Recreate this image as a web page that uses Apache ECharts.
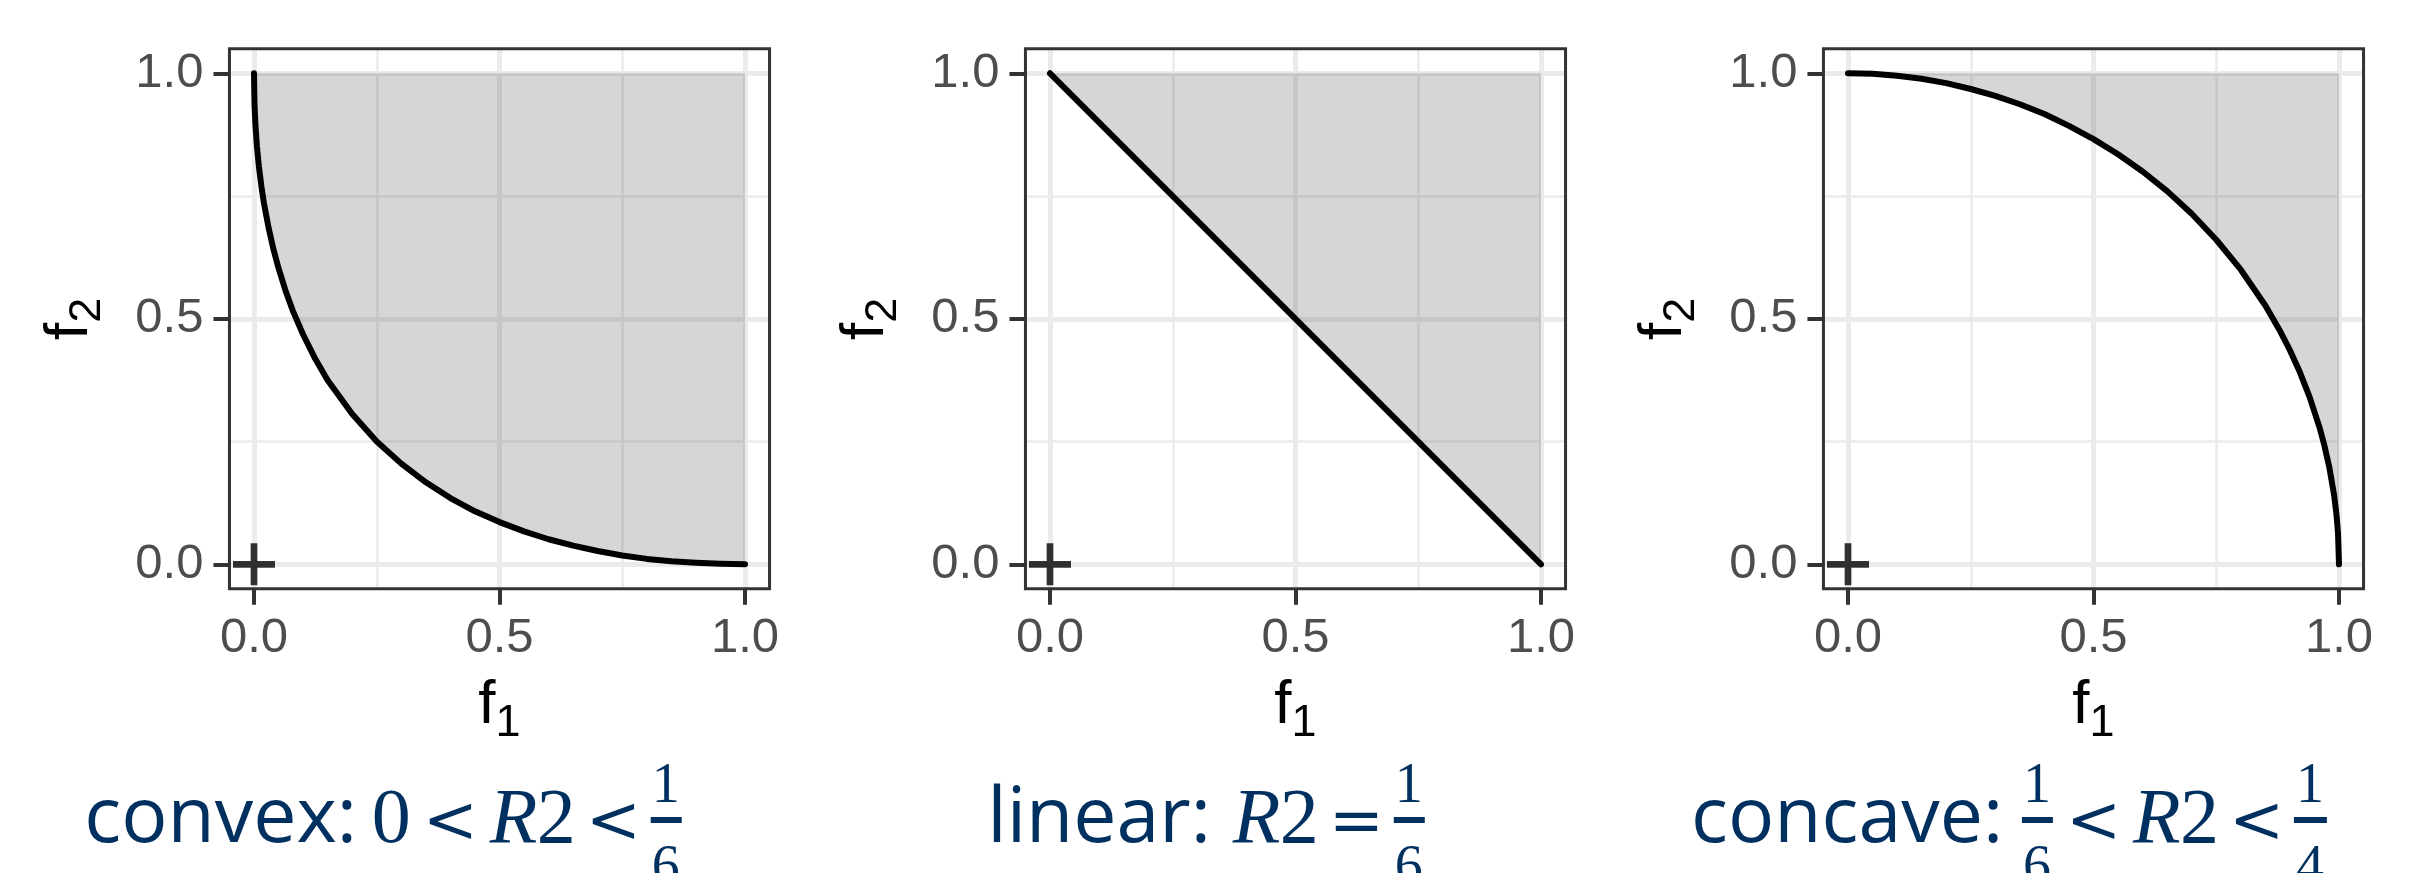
<!DOCTYPE html>
<html>
<head>
<meta charset="utf-8">
<script src="https://cdn.jsdelivr.net/npm/echarts@6/dist/echarts.min.js"></script>
<style>
html, body { margin: 0; padding: 0; background: #ffffff; }
#chart { width: 2417px; height: 873px; }
</style>
</head>
<body>
<div id="chart"></div>
<script>
// ---- data -------------------------------------------------------------
const TICKS = [0, 0.5, 1];
const TICK_LABELS = ['0.0', '0.5', '1.0'];
const MINOR_GRID = [0.25, 0.75];

// convex front
const convexF1 = [0, 0.001, 0.003, 0.006, 0.01, 0.015, 0.02, 0.03, 0.04, 0.05, 0.065, 0.08, 0.1, 0.125, 0.15, 0.2, 0.25, 0.3, 0.35, 0.4, 0.45, 0.5, 0.55, 0.6, 0.65, 0.7, 0.75, 0.8, 0.85, 0.9, 0.95, 1];
const convexF2 = [1, 0.938, 0.894, 0.851, 0.81, 0.77, 0.737, 0.684, 0.64, 0.603, 0.555, 0.514, 0.468, 0.418, 0.375, 0.306, 0.25, 0.205, 0.167, 0.135, 0.108, 0.086, 0.067, 0.051, 0.038, 0.027, 0.018, 0.011, 0.006, 0.003, 0.001, 0];

// linear front
const linearF1 = [0, 1];
const linearF2 = [1, 0];

// concave front
const concaveF1 = [0, 0.05, 0.1, 0.15, 0.2, 0.25, 0.3, 0.35, 0.4, 0.45, 0.5, 0.55, 0.6, 0.65, 0.7, 0.75, 0.8, 0.85, 0.88, 0.9, 0.92, 0.94, 0.96, 0.97, 0.98, 0.99, 0.995, 0.998, 1];
const concaveF2 = [1, 0.999, 0.995, 0.989, 0.98, 0.968, 0.954, 0.937, 0.917, 0.893, 0.866, 0.835, 0.8, 0.76, 0.714, 0.661, 0.6, 0.527, 0.475, 0.436, 0.392, 0.341, 0.28, 0.243, 0.199, 0.141, 0.1, 0.063, 0];

// ideal point
const idealPoint = [0, 0];

// captions: pieces of text and inline math
const captionConvex = [['text', 'convex:'], ['num', '0'], ['rel', '<'], ['var', 'R'], ['num', '2'], ['rel', '<'], ['frac', '1', '6']];
const captionLinear = [['text', 'linear:'], ['var', 'R'], ['num', '2'], ['rel', '='], ['frac', '1', '6']];
const captionConcave = [['text', 'concave:'], ['frac', '1', '6'], ['rel', '<'], ['var', 'R'], ['num', '2'], ['rel', '<'], ['frac', '1', '4']];

// ---- layout -----------------------------------------------------------
const PANEL_X0 = [254, 1050, 1848];   // pixel of f1 = 0 in each panel
const CAPTION_X = [385, 1209, 2011];  // caption centres
const UNIT = 491;                      // pixels per unit on both axes
const Y_ONE = 73.3;                    // pixel of f2 = 1
const EXPAND = 0.05;
const FRAME_COLOR = '#333333';
const GRID_COLOR = '#EBEBEB';
const CAPTION_COLOR = '#00305F';
const CAPTION_BASELINE = 842;

const panels = [
  { f1: convexF1, f2: convexF2, caption: captionConvex },
  { f1: linearF1, f2: linearF2, caption: captionLinear },
  { f1: concaveF1, f2: concaveF2, caption: captionConcave }
];

const zip = (a, b) => a.map((v, i) => [v, b[i]]);

// text measurement helpers
const mctx = document.createElement('canvas').getContext('2d');
function textWidth(s, font) { mctx.font = font; return mctx.measureText(s).width; }
function inkBox(s, font) {
  mctx.font = font;
  const m = mctx.measureText(s);
  return { l: m.actualBoundingBoxLeft, r: m.actualBoundingBoxRight, w: m.actualBoundingBoxLeft + m.actualBoundingBoxRight };
}
function middleOffset(font) {
  mctx.font = font;
  mctx.textBaseline = 'alphabetic';
  const a = mctx.measureText('H').actualBoundingBoxAscent;
  mctx.textBaseline = 'middle';
  const m = mctx.measureText('H').actualBoundingBoxAscent;
  mctx.textBaseline = 'alphabetic';
  return a - m;
}
function textAt(s, font, x, baseline, fill, align) {
  return {
    type: 'text', silent: true, z: 50,
    x: x, y: baseline - middleOffset(font),
    style: { text: s, font: font, fill: fill, align: align || 'left', verticalAlign: 'middle',
             textAlign: align || 'left', textVerticalAlign: 'middle' }
  };
}

const MAIN = 77;
const FONTS = {
  text: MAIN + 'px "Open Sans"',
  num: '78px "Liberation Serif"',
  var: 'italic 78px "Liberation Serif"',
  rel: '66px "DejaVu Serif"'
};
const FONT_FRAC = '56px "Liberation Serif"';
// ink gaps between neighbouring pieces
const GAPS = {
  text: { num: 22, var: 26, frac: 24 },
  num: { rel: 21 },
  rel: { var: 17, frac: 16, num: 17 },
  var: { num: 3 },
  frac: { rel: 20 }
};

function buildCaption(pieces, centerX, baseline) {
  const items = [];
  let x = 0, prev = null;
  pieces.forEach(p => {
    const kind = p[0];
    if (prev) x += (GAPS[prev] && GAPS[prev][kind]) || 17;
    if (kind === 'frac') {
      const n = inkBox(p[1], FONT_FRAC), d = inkBox(p[2], FONT_FRAC);
      const pad = 3;
      const w = Math.max(n.w, d.w) + 2 * pad;
      items.push({ s: p[1], font: FONT_FRAC, x: x + (w - n.w) / 2 + n.l, dy: -40 });
      items.push({ s: p[2], font: FONT_FRAC, x: x + (w - d.w) / 2 + d.l, dy: 42 });
      items.push({ bar: true, x: x, w: w });
      x += w;
    } else {
      const font = FONTS[kind];
      const b = inkBox(p[1], font);
      items.push({ s: p[1], font: font, x: x + b.l, dy: 0 });
      x += b.w;
    }
    prev = kind;
  });
  const left = centerX - x / 2;
  return items.map(it => {
    if (it.bar) {
      return { type: 'rect', silent: true, z: 50,
               shape: { x: left + it.x, y: baseline - 25, width: it.w, height: 6 },
               style: { fill: CAPTION_COLOR } };
    }
    return textAt(it.s, it.font, left + it.x, baseline + it.dy, CAPTION_COLOR, 'left');
  });
}

// ---- option -----------------------------------------------------------
const grids = [], xAxes = [], yAxes = [], series = [], graphics = [];
const side = UNIT * (1 + 2 * EXPAND);

const majorLine = { width: 5, color: GRID_COLOR, type: 'solid' };
const minorLine = { width: 2.5, color: GRID_COLOR, type: 'solid' };

panels.forEach((p, i) => {
  const left = PANEL_X0[i] - EXPAND * UNIT;
  const top = Y_ONE - EXPAND * UNIT;
  grids.push({ left: left, top: top, width: side, height: side, show: true,
               backgroundColor: '#ffffff', borderWidth: 0, containLabel: false,
               outerBoundsMode: 'none' });

  const axisCommon = {
    type: 'value', gridIndex: i, min: -EXPAND, max: 1 + EXPAND,
    axisLine: { show: false, onZero: false },
    splitLine: { show: false },
    axisTick: { show: true, customValues: TICKS, length: 16, lineStyle: { color: FRAME_COLOR, width: 4 } },
    axisLabel: { show: true, customValues: TICKS,
                 formatter: v => TICK_LABELS[TICKS.indexOf(v)] ?? '',
                 fontSize: 49, fontFamily: '"Liberation Sans", Arial, sans-serif', color: '#4D4D4D' }
  };
  xAxes.push(Object.assign({}, axisCommon, { position: 'bottom',
    axisLabel: Object.assign({}, axisCommon.axisLabel, { margin: 25 }) }));
  yAxes.push(Object.assign({}, axisCommon, { position: 'left',
    axisLabel: Object.assign({}, axisCommon.axisLabel, { margin: 26 }) }));

  // panel grid lines, kept beneath the shaded region
  series.push({
    type: 'line', xAxisIndex: i, yAxisIndex: i, data: [[-1, -1]],
    symbol: 'none', lineStyle: { width: 0 }, silent: true, z: 1,
    markLine: {
      z: 1, silent: true, symbol: ['none', 'none'], label: { show: false }, animation: false,
      lineStyle: { type: 'solid' },
      emphasis: { disabled: true },
      data: [].concat(
        MINOR_GRID.map(v => ({ xAxis: v, lineStyle: minorLine })),
        MINOR_GRID.map(v => ({ yAxis: v, lineStyle: minorLine })),
        TICKS.map(v => ({ xAxis: v, lineStyle: majorLine })),
        TICKS.map(v => ({ yAxis: v, lineStyle: majorLine }))
      )
    }
  });

  // dominated region and front
  series.push({
    type: 'line', xAxisIndex: i, yAxisIndex: i, data: zip(p.f1, p.f2),
    showSymbol: false, symbol: 'none', smooth: false, z: 3, silent: true,
    lineStyle: { color: '#000000', width: 6, cap: 'round', join: 'round' },
    areaStyle: { color: 'rgba(51,51,51,0.2)', opacity: 1, origin: 1 },
    emphasis: { disabled: true }
  });

  // ideal point
  series.push({
    type: 'scatter', xAxisIndex: i, yAxisIndex: i, data: [idealPoint],
    symbol: 'path://M42,0H58V42H100V58H58V100H42V58H0V42H42Z',
    symbolSize: 42, itemStyle: { color: '#000000' }, z: 5, silent: true
  });

  // panel frame
  graphics.push({ type: 'rect', silent: true, z: 40,
                  shape: { x: left, y: top, width: side, height: side },
                  style: { fill: null, stroke: FRAME_COLOR, lineWidth: 3 } });

  // axis titles f1 and f2
  const cx = PANEL_X0[i] + 0.5 * UNIT;
  const fFont = '62px "Liberation Sans", Arial, sans-serif';
  const sFont = '45px "Liberation Sans", Arial, sans-serif';
  const fw = textWidth('f', fFont), sw = textWidth('1', sFont);
  const x0 = cx - (fw + sw) / 2;
  graphics.push(textAt('f', fFont, x0, 723, '#000000', 'left'));
  graphics.push(textAt('1', sFont, x0 + fw, 736, '#000000', 'left'));

  const cy = Y_ONE + 0.5 * UNIT;
  const yx = left - 142;
  graphics.push({
    type: 'group', x: yx, y: cy + (fw + sw) / 2, rotation: Math.PI / 2, silent: true,
    children: [
      textAt('f', fFont, 0, 0, '#000000', 'left'),
      textAt('2', sFont, fw, 13, '#000000', 'left')
    ]
  });

  // caption
  buildCaption(p.caption, CAPTION_X[i], CAPTION_BASELINE).forEach(g => graphics.push(g));
});

const chart = echarts.init(document.getElementById('chart'), null, { renderer: 'canvas' });
chart.setOption({
  animation: false,
  backgroundColor: '#ffffff',
  grid: grids,
  xAxis: xAxes,
  yAxis: yAxes,
  series: series,
  graphic: { elements: graphics }
});
</script>
</body>
</html>
